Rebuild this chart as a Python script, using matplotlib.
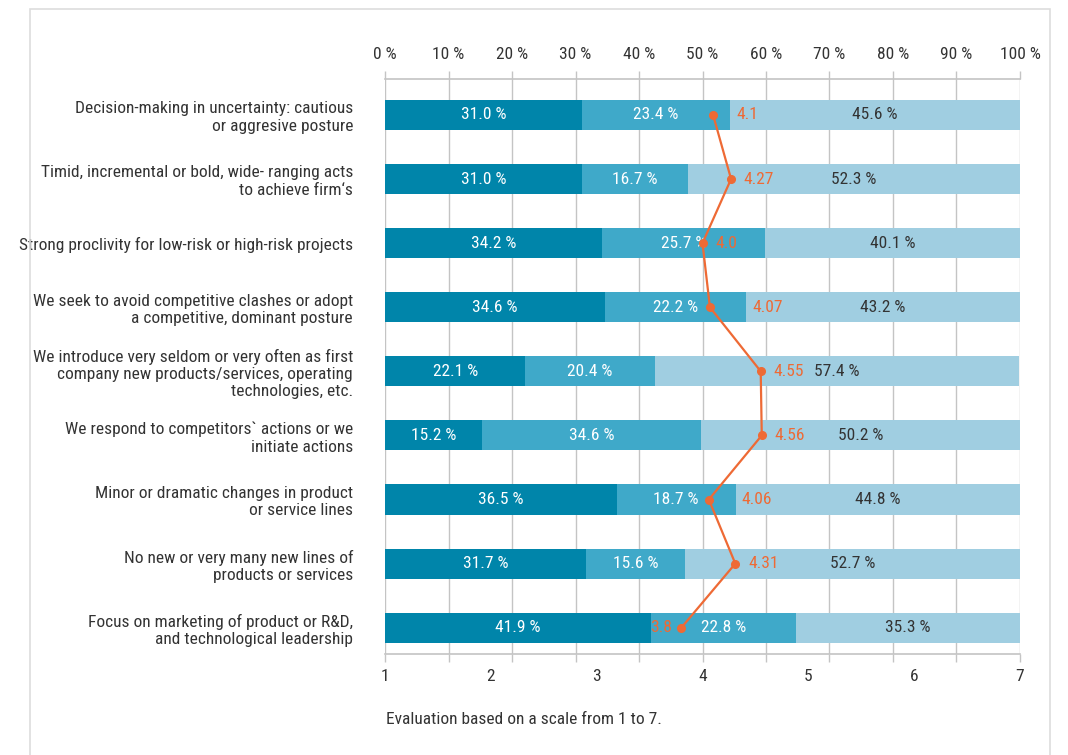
import numpy as np
import matplotlib
matplotlib.use('Agg')
import matplotlib.pyplot as plt
from matplotlib.patches import Rectangle

plt.rcParams['font.family'] = ['Roboto Condensed', 'DejaVu Sans']

items = [
    'Decision-making in uncertainty: cautious\nor aggresive posture',
    'Timid, incremental or bold, wide- ranging acts\nto achieve firm‘s',
    'Strong proclivity for low-risk or high-risk projects',
    'We seek to avoid competitive clashes or adopt\na competitive, dominant posture',
    'We introduce very seldom or very often as first\ncompany new products/services, operating\ntechnologies, etc.',
    'We respond to competitors` actions or we\ninitiate actions',
    'Minor or dramatic changes in product\nor service lines',
    'No new or very many new lines of\nproducts or services',
    'Focus on marketing of product or R&D,\nand technological leadership',
]
low = [31.0, 31.0, 34.2, 34.6, 22.1, 15.2, 36.5, 31.7, 41.9]
mid = [23.4, 16.7, 25.7, 22.2, 20.4, 34.6, 18.7, 15.6, 22.8]
high = [45.6, 52.3, 40.1, 43.2, 57.4, 50.2, 44.8, 52.7, 35.3]
means = [4.1, 4.27, 4.0, 4.07, 4.55, 4.56, 4.06, 4.31, 3.8]
pct_ticks = list(range(0, 101, 10))
scale_ticks = [1, 2, 3, 4, 5, 6, 7]

c_low = '#0085aa'
c_mid = '#3fa9c9'
c_high = '#a0cee1'
c_mean = '#ee6a35'
c_text = '#333333'
c_grid = '#c4c4c4'
fs = 12.5

fig = plt.figure(figsize=(10.68, 7.55), dpi=100)
fig.patches.append(Rectangle((30 / 1068, -0.1), 1020 / 1068, 1 - 9 / 755 + 0.1,
                             transform=fig.transFigure, fill=False,
                             edgecolor='#dddddd', linewidth=1.2))

ax = fig.add_axes([385 / 1068, 1 - 654 / 755, 635 / 1068, 575 / 755])

# 1-7 scale labels under the bars (set up first: twiny moves the host ticks)
ax2 = ax.twiny()
ax2.set_xlim(1, 7)
ax2.xaxis.set_ticks_position('bottom')
ax2.set_xticks(scale_ticks)
ax2.tick_params(axis='x', length=0, pad=11, labelsize=fs, labelcolor=c_text)
for sp in ax2.spines.values():
    sp.set_visible(False)

y = np.arange(len(items))
h = 0.47

ax.barh(y, low, height=h, color=c_low, zorder=2)
ax.barh(y, mid, left=low, height=h, color=c_mid, zorder=2)
ax.barh(y, high, left=np.add(low, mid), height=h, color=c_high, zorder=2)

ax.set_xlim(0, 100)
ax.set_ylim(8.41, -0.56)

for x in pct_ticks:
    ax.axvline(x, color=c_grid, linewidth=1, zorder=1)

# segment value labels
for i in range(len(items)):
    starts = [0, low[i], low[i] + mid[i]]
    vals = [low[i], mid[i], high[i]]
    cols = ['white', 'white', c_text]
    for s, v, c in zip(starts, vals, cols):
        ax.text(s + v / 2, i, f'{v:.1f} %', ha='center', va='center',
                color=c, fontsize=fs, zorder=4)

# mean line on the 1-7 scale
mean_x = [(m - 1) / 6 * 100 for m in means]
ax.plot(mean_x, y, color=c_mean, linewidth=1.6, marker='o', markersize=5.5, zorder=5)
for i, (mx, m) in enumerate(zip(mean_x, means)):
    s = f'{m:.2f}'
    if s.endswith('0'):
        s = s[:-1]
    mid_center = low[i] + mid[i] / 2
    edge = low[i] + mid[i]
    if mx < mid_center:
        ax.text(mx - 1.4, i, s, ha='right', va='center', color=c_mean, fontsize=fs, zorder=5)
    else:
        # keep the number clear of a nearby segment edge
        tx = edge + 1.0 if 0 < edge - mx < 8 else mx + 2.0
        ax.text(tx, i, s, ha='left', va='center', color=c_mean, fontsize=fs, zorder=5)

ax.set_yticks(y)
ax.set_yticklabels(items, fontsize=fs, color=c_text, linespacing=1.2)
ax.tick_params(axis='y', length=0, pad=23)

ax.set_xticks(pct_ticks)
ax.set_xticklabels([f'{t} %' for t in pct_ticks])
ax.xaxis.set_ticks_position('both')
ax.tick_params(axis='x', which='both', direction='out', length=5.5, width=1, color=c_grid,
               top=True, bottom=True, labeltop=True, labelbottom=False,
               labelsize=fs, labelcolor=c_text, pad=7)

for side in ['left', 'right']:
    ax.spines[side].set_visible(False)
for side in ['top', 'bottom']:
    ax.spines[side].set_color(c_grid)
    ax.spines[side].set_linewidth(1.2)

fig.text(386 / 1068, 1 - 720 / 755, 'Evaluation based on a scale from 1 to 7.',
         fontsize=fs, color=c_text, ha='left', va='center')

fig.savefig('out.png', dpi=100)
